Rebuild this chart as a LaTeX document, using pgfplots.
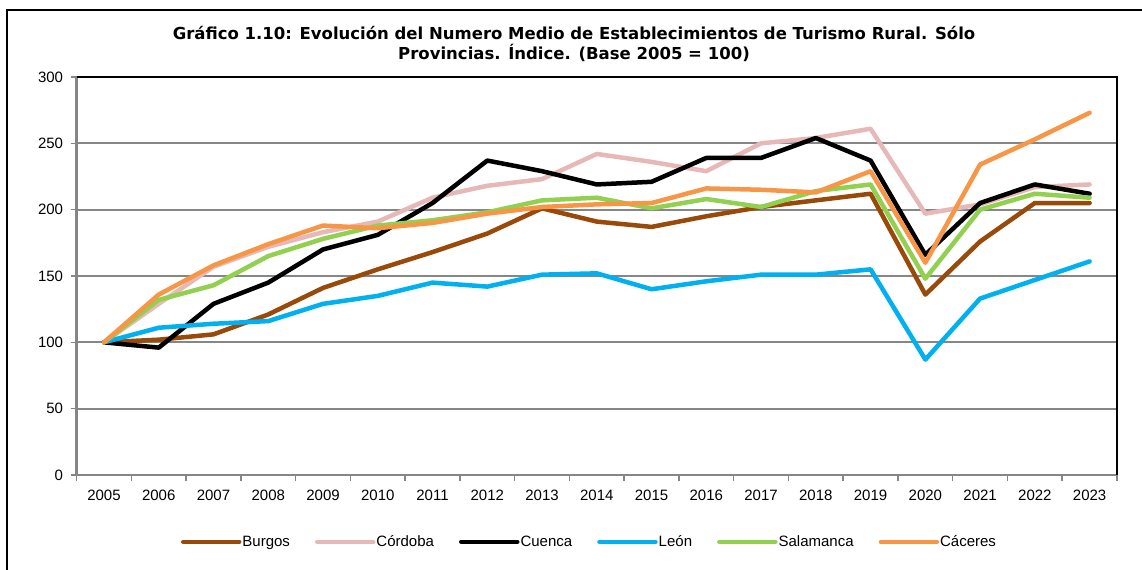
\documentclass[border=0pt]{standalone}
\usepackage{fontspec}
\setmainfont{Liberation Sans}
\newfontfamily\titlefont{DejaVu Sans}
\usepackage{pgfplots}
\pgfplotsset{compat=1.18}
\definecolor{cBurgos}{RGB}{153,74,10}
\definecolor{cCordoba}{RGB}{230,185,184}
\definecolor{cCuenca}{RGB}{0,0,0}
\definecolor{cLeon}{RGB}{0,176,240}
\definecolor{cSalamanca}{RGB}{146,208,80}
\definecolor{cCaceres}{RGB}{247,150,70}
\definecolor{gridgray}{RGB}{134,134,134}
\begin{document}
\begin{tikzpicture}[x=1bp,y=1bp]
\useasboundingbox (0,0) rectangle (1142,570);
\draw[line width=2.5bp] (7,-10) -- (7,560) -- (1160,560);
\node[anchor=base, font=\titlefont\bfseries\fontsize{16.5bp}{19bp}\selectfont] at (574,530) {Gráfico 1.10: Evolución del Numero Medio de Establecimientos de Turismo Rural. Sólo};
\node[anchor=base, font=\titlefont\bfseries\fontsize{16.5bp}{19bp}\selectfont] at (574,510) {Provincias. Índice. (Base 2005 = 100)};
\begin{axis}[
  at={(76.6bp,95bp)}, anchor=south west,
  scale only axis, width=1040.4bp, height=398bp,
  xmin=-0.5, xmax=18.5, ymin=0, ymax=300,
  axis lines*=left,
  axis line style={draw=gridgray, line width=2.5bp, -},
  ytick={0,50,100,150,200,250,300},
  xtick={-0.5,0.5,...,18.5}, xticklabels={},
  extra x ticks={0,1,...,18},
  extra x tick labels={2005,2006,2007,2008,2009,2010,2011,2012,2013,2014,2015,2016,2017,2018,2019,2020,2021,2022,2023},
  extra x tick style={major tick length=0pt, grid=none, xticklabel style={yshift=-12bp}},
  yticklabel style={xshift=-4bp},
  tick align=outside, major tick length=6bp,
  tick style={draw=gridgray, line width=1.5bp},
  ymajorgrids, grid style={draw=gridgray, line width=1.8bp},
  /pgf/number format/assume math mode=true,
  tick label style={font=\fontsize{15bp}{17bp}\selectfont},
  clip=false,
  legend columns=6,
  legend style={at={(0.4925,-0.168)}, anchor=center, draw=none, fill=none,
    font=\fontsize{15bp}{17bp}\selectfont, nodes={inner sep=1bp},
    /tikz/every even column/.append style={column sep=24bp}},
  legend image code/.code={\draw[#1] (0bp,0bp) -- (56bp,0bp);},
  every axis plot/.append style={line width=4.5bp, line join=round, line cap=round},
]
\addplot[cBurgos] coordinates {(0,100)(1,102)(2,106)(3,121)(4,141)(5,155)(6,168)(7,182)(8,201)(9,191)(10,187)(11,195)(12,202)(13,207)(14,212)(15,136)(16,176)(17,205)(18,205)};
\addlegendentry{Burgos}
\addplot[cCordoba] coordinates {(0,100)(1,129)(2,157)(3,172)(4,183)(5,191)(6,209)(7,218)(8,223)(9,242)(10,236)(11,229)(12,250)(13,254)(14,261)(15,197)(16,204)(17,217)(18,219)};
\addlegendentry{Córdoba}
\addplot[cCuenca] coordinates {(0,100)(1,96)(2,129)(3,145)(4,170)(5,181)(6,205)(7,237)(8,229)(9,219)(10,221)(11,239)(12,239)(13,254)(14,237)(15,166)(16,205)(17,219)(18,212)};
\addlegendentry{Cuenca}
\addplot[cLeon] coordinates {(0,100)(1,111)(2,114)(3,116)(4,129)(5,135)(6,145)(7,142)(8,151)(9,152)(10,140)(11,146)(12,151)(13,151)(14,155)(15,87)(16,133)(17,147)(18,161)};
\addlegendentry{León}
\addplot[cSalamanca] coordinates {(0,100)(1,132)(2,143)(3,165)(4,178)(5,188)(6,192)(7,198)(8,207)(9,209)(10,201)(11,208)(12,202)(13,214)(14,219)(15,148)(16,200)(17,212)(18,209)};
\addlegendentry{Salamanca}
\addplot[cCaceres] coordinates {(0,100)(1,136)(2,158)(3,174)(4,188)(5,186)(6,190)(7,197)(8,202)(9,204)(10,205)(11,216)(12,215)(13,213)(14,229)(15,160)(16,234)(17,253)(18,273)};
\addlegendentry{Cáceres}
\draw[black, line width=2bp] (rel axis cs:0,1) -- (rel axis cs:1,1) -- (rel axis cs:1,0);
\end{axis}
\end{tikzpicture}
\end{document}
